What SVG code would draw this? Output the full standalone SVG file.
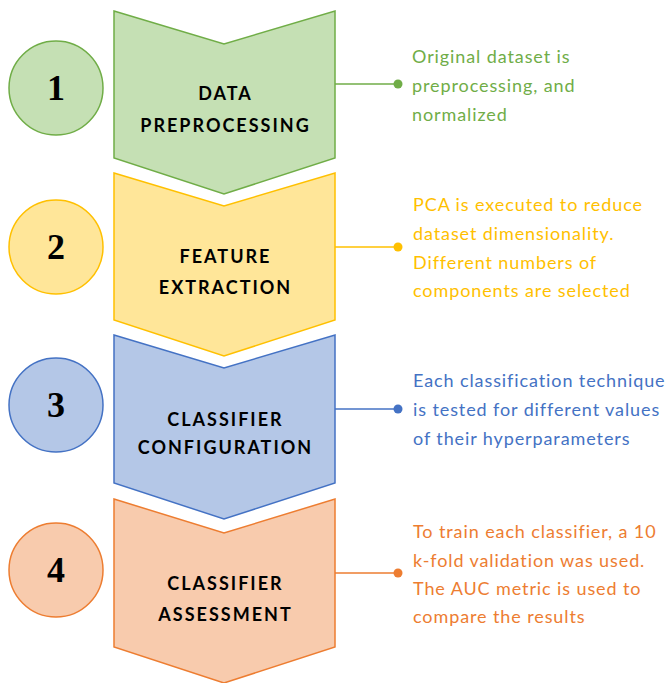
<svg xmlns="http://www.w3.org/2000/svg" width="666" height="683" viewBox="0 0 666 683">
<style>
.num{font-family:"Liberation Serif","DejaVu Serif",serif;font-weight:bold;font-size:36px;fill:#000;text-anchor:middle}
.lbl{font-family:"Lato","Open Sans",sans-serif;font-weight:bold;font-size:18px;fill:#000;text-anchor:middle;letter-spacing:2px}
.desc{font-family:"Lato","Noto Sans",sans-serif;font-size:18px;letter-spacing:0.9px}
.g{fill:#C5E0B4;stroke:#70AD47;stroke-width:1.5}
.y{fill:#FFE699;stroke:#FFC000;stroke-width:1.5}
.b{fill:#B4C7E7;stroke:#4472C4;stroke-width:1.5}
.o{fill:#F8CBAD;stroke:#ED7D31;stroke-width:1.5}
</style>
<rect width="666" height="683" fill="#fff"/>
<g id="step1">
<polygon class="g" points="114,11 224,44 335,11 335,158 224,194 114,158"/>
<circle class="g" cx="56" cy="88" r="47"/>
<text class="num" x="56" y="100">1</text>
<text class="lbl" x="225.5" y="100">DATA</text>
<text class="lbl" x="225.5" y="132">PREPROCESSING</text>
</g>
<g id="step2">
<polygon class="y" points="114,173 224,206 335,173 335,320 224,356 114,320"/>
<circle class="y" cx="56" cy="247" r="47"/>
<text class="num" x="56" y="259">2</text>
<text class="lbl" x="225.5" y="263">FEATURE</text>
<text class="lbl" x="225.5" y="294">EXTRACTION</text>
</g>
<g id="step3">
<polygon class="b" points="114,335 224,368 335,335 335,483 224,519 114,483"/>
<circle class="b" cx="56" cy="405" r="47"/>
<text class="num" x="56" y="417">3</text>
<text class="lbl" x="225.5" y="426">CLASSIFIER</text>
<text class="lbl" x="225.5" y="454">CONFIGURATION</text>
</g>
<g id="step4">
<polygon class="o" points="114,499 224,533 335,499 335,647 224,683 114,647"/>
<circle class="o" cx="56" cy="570" r="47" stroke="#C55A11"/>
<text class="num" x="56" y="582">4</text>
<text class="lbl" x="225.5" y="590">CLASSIFIER</text>
<text class="lbl" x="225.5" y="621">ASSESSMENT</text>
</g>
<g id="connectors" stroke-width="1.5">
<line x1="335" y1="84" x2="398" y2="84" stroke="#70AD47"/>
<circle cx="398" cy="84" r="4.5" fill="#70AD47"/>
<line x1="335" y1="247" x2="398" y2="247" stroke="#FFC000"/>
<circle cx="398" cy="247" r="4.5" fill="#FFC000"/>
<line x1="335" y1="409" x2="398" y2="409" stroke="#4472C4"/>
<circle cx="398" cy="409" r="4.5" fill="#4472C4"/>
<line x1="335" y1="573" x2="398" y2="573" stroke="#ED7D31"/>
<circle cx="398" cy="573" r="4.5" fill="#ED7D31"/>
</g>
<g id="desc1" class="desc" fill="#70AD47">
<text x="412" y="63">Original dataset is</text>
<text x="412" y="92">preprocessing, and</text>
<text x="412" y="121">normalized</text>
</g>
<g id="desc2" class="desc" fill="#FFC000">
<text x="413" y="211">PCA is executed to reduce</text>
<text x="413" y="240">dataset dimensionality.</text>
<text x="413" y="269">Different numbers of</text>
<text x="413" y="297">components are selected</text>
</g>
<g id="desc3" class="desc" fill="#4472C4">
<text x="413" y="387">Each classification technique</text>
<text x="413" y="416">is tested for different values</text>
<text x="413" y="445">of their hyperparameters</text>
</g>
<g id="desc4" class="desc" fill="#ED7D31">
<text x="413" y="538">To train each classifier, a 10</text>
<text x="413" y="567">k-fold validation was used.</text>
<text x="413" y="595">The AUC metric is used to</text>
<text x="413" y="623">compare the results</text>
</g>
</svg>
